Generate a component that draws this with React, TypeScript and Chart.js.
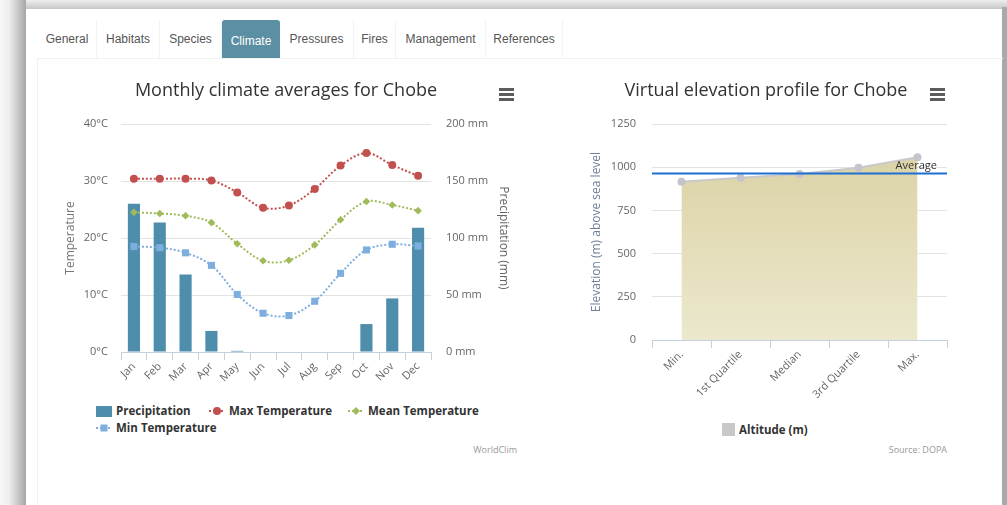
import React, { useEffect, useRef } from "react";
import { Chart, registerables } from "chart.js";

Chart.register(...registerables);

const FONT = "'Open Sans', 'DejaVu Sans', sans-serif";

// ---------- data ----------
const tabLabels = ["General", "Habitats", "Species", "Climate", "Pressures", "Fires", "Management", "References"];
const activeTab = "Climate";

const climateTitle = "Monthly climate averages for Chobe";
const months = ["Jan", "Feb", "Mar", "Apr", "May", "Jun", "Jul", "Aug", "Sep", "Oct", "Nov", "Dec"];
const precipitation = [130, 113.5, 68, 18.5, 1, 0, 0, 0, 0, 24.5, 47, 109];
const maxTemperature = [30.4, 30.4, 30.4, 30.1, 28.0, 25.3, 25.7, 28.6, 32.7, 34.9, 32.8, 30.9];
const meanTemperature = [24.5, 24.3, 23.9, 22.7, 19.0, 16.0, 16.1, 18.8, 23.2, 26.4, 25.8, 24.8];
const minTemperature = [18.5, 18.3, 17.4, 15.2, 10.1, 6.8, 6.4, 8.9, 13.8, 17.9, 18.9, 18.6];
const temperatureTicks = [0, 10, 20, 30, 40];
const precipitationTicks = [0, 50, 100, 150, 200];

const elevationTitle = "Virtual elevation profile for Chobe";
const elevationCategories = ["Min.", "1st Quartile", "Median", "3rd Quartile", "Max."];
const elevation = [916, 939, 960, 997, 1057];
const averageElevation = 964;
const elevationTicks = [0, 250, 500, 750, 1000, 1250];

// ---------- styles ----------
const C_BAR = "#4e8eac";
const C_MAX = "#c2504e";
const C_MEAN = "#9fbb5a";
const C_MIN = "#7eaede";
const C_GRID = "#e3e3e3";
const C_AXIS = "#c4d0dc";
const C_TICK = "#666666";
const C_AREA_LINE = "#c9c9c9";
const C_AREA_POINT = "#c4c4cc";
const C_AVG = "#1f6fd1";
const TAB_WIDTHS = [59, 63, 62, 58, 74, 42, 90, 77];

const averageLinePlugin = {
  id: "averageLine",
  afterDatasetsDraw(chart: any, _args: any, opts: any) {
    const scale = chart.scales.y;
    if (!scale) return;
    const y = scale.getPixelForValue(opts.value);
    const { left, right } = chart.chartArea;
    const ctx = chart.ctx;
    ctx.save();
    ctx.strokeStyle = opts.color;
    ctx.lineWidth = 2;
    ctx.beginPath();
    ctx.moveTo(left, y);
    ctx.lineTo(right, y);
    ctx.stroke();
    ctx.fillStyle = "#333";
    ctx.font = `11px ${FONT}`;
    ctx.textAlign = "right";
    ctx.textBaseline = "middle";
    ctx.fillText(opts.label, right - 10, y - 8);
    ctx.restore();
  },
};

const titleOptions = (text: string) => ({
  display: true,
  text,
  color: "#333",
  font: { family: FONT, size: 18, weight: "normal" },
  padding: { top: 10.2, bottom: 22.2 },
});

function ClimateChart() {
  const ref = useRef<HTMLCanvasElement>(null);
  useEffect(() => {
    const lineDs = (label: string, data: number[], color: string, style: string, radius: number, order: number) => ({
      type: "line" as const,
      label,
      data,
      yAxisID: "yT",
      borderColor: color,
      backgroundColor: color,
      borderWidth: 2,
      borderDash: [2, 2],
      tension: 0.35,
      pointStyle: style,
      pointRadius: radius,
      pointBackgroundColor: color,
      pointBorderWidth: 0,
      order,
    });
    const chart = new Chart(ref.current!, {
      type: "bar",
      data: {
        labels: months,
        datasets: [
          {
            type: "bar",
            label: "Precipitation",
            data: precipitation,
            yAxisID: "yP",
            backgroundColor: C_BAR,
            barPercentage: 0.47,
            categoryPercentage: 1,
            order: 4,
          } as any,
          lineDs("Max Temperature", maxTemperature, C_MAX, "circle", 4, 1),
          lineDs("Mean Temperature", meanTemperature, C_MEAN, "rectRot", 3.8, 2),
          lineDs("Min Temperature", minTemperature, C_MIN, "rect", 5, 3),
        ],
      },
      options: {
        animation: false,
        responsive: false,
        maintainAspectRatio: false,
        layout: { padding: 0 },
        plugins: {
          legend: { display: false },
          tooltip: { enabled: false },
          title: titleOptions(climateTitle),
        },
        scales: {
          x: {
            offset: true,
            grid: { offset: true, drawOnChartArea: false, drawTicks: true, tickLength: 8, color: C_AXIS },
            border: { display: true, color: C_AXIS },
            ticks: { minRotation: 45, maxRotation: 45, autoSkip: false, padding: 0, color: C_TICK, font: { family: FONT, size: 11 } },
            afterFit: (s: any) => { s.height = 40; },
          },
          yT: {
            position: "left",
            min: temperatureTicks[0],
            max: temperatureTicks[temperatureTicks.length - 1],
            ticks: {
              stepSize: temperatureTicks[1] - temperatureTicks[0],
              padding: 13,
              color: C_TICK,
              font: { family: FONT, size: 11 },
              callback: (v: any) => `${v}\u00B0C`,
            },
            grid: { color: C_GRID, drawTicks: false },
            border: { display: false },
            title: { display: true, text: "Temperature", color: "#777", font: { family: FONT, size: 12 }, padding: { top: 23.5, bottom: 0 } },
            afterFit: (s: any) => { s.width = 81; },
          },
          yP: {
            position: "right",
            min: precipitationTicks[0],
            max: precipitationTicks[precipitationTicks.length - 1],
            ticks: {
              stepSize: precipitationTicks[1] - precipitationTicks[0],
              padding: 15,
              color: C_TICK,
              font: { family: FONT, size: 11 },
              callback: (v: any) => `${v} mm`,
            },
            grid: { drawOnChartArea: false, drawTicks: false },
            border: { display: false },
            title: { display: true, text: "Precipitation (mm)", color: "#666", font: { family: FONT, size: 12 }, padding: { top: 21.8, bottom: 0 } },
            afterFit: (s: any) => { s.width = 101; },
          },
        },
      } as any,
    });
    return () => chart.destroy();
  }, []);
  return <canvas ref={ref} width={492} height={322} style={{ position: "absolute", left: 40, top: 70, width: 492, height: 322 }} />;
}

function ElevationChart() {
  const ref = useRef<HTMLCanvasElement>(null);
  useEffect(() => {
    const chart = new Chart(ref.current!, {
      type: "line",
      data: {
        labels: elevationCategories,
        datasets: [
          {
            label: "Altitude (m)",
            data: elevation,
            fill: "origin",
            backgroundColor: (c: any) => {
              const area = c.chart.chartArea;
              if (!area) return "#e2dcb5";
              const g = c.chart.ctx.createLinearGradient(0, area.top, 0, area.bottom);
              g.addColorStop(0, "#d8cfa0");
              g.addColorStop(1, "#ece8cd");
              return g;
            },
            borderColor: C_AREA_LINE,
            borderWidth: 2,
            pointRadius: 4,
            pointBackgroundColor: C_AREA_POINT,
            pointBorderWidth: 0,
            tension: 0,
          },
        ],
      },
      plugins: [averageLinePlugin],
      options: {
        animation: false,
        responsive: false,
        maintainAspectRatio: false,
        layout: { padding: { left: 25, right: 25 } },
        plugins: {
          legend: { display: false },
          tooltip: { enabled: false },
          title: titleOptions(elevationTitle),
          averageLine: { value: averageElevation, label: "Average", color: C_AVG },
        },
        scales: {
          x: {
            offset: true,
            grid: { offset: true, drawOnChartArea: false, drawTicks: true, tickLength: 8, color: C_AXIS },
            border: { display: true, color: C_AXIS },
            ticks: { minRotation: 45, maxRotation: 45, autoSkip: false, padding: 0, color: C_TICK, font: { family: FONT, size: 11 } },
            afterFit: (s: any) => { s.height = 60; },
          },
          y: {
            min: elevationTicks[0],
            max: elevationTicks[elevationTicks.length - 1],
            ticks: {
              stepSize: elevationTicks[1] - elevationTicks[0],
              padding: 16,
              color: C_TICK,
              font: { family: FONT, size: 11 },
              callback: (v: any) => String(v),
            },
            grid: { color: C_GRID, drawTicks: false },
            border: { display: false },
            title: { display: true, text: "Elevation (m) above sea level", color: "#6f7f9a", font: { family: FONT, size: 12 }, padding: { top: 4.8, bottom: 0 } },
            afterFit: (s: any) => { s.width = 67; },
          },
        },
      } as any,
    });
    return () => chart.destroy();
  }, []);
  return <canvas ref={ref} width={412} height={330} style={{ position: "absolute", left: 560, top: 70, width: 412, height: 330 }} />;
}

function MenuIcon({ left, top }: { left: number; top: number }) {
  const bar = (t: number) => (
    <div style={{ position: "absolute", left: 0, top: t, width: 15, height: 3, background: "#5c5c5c" }} />
  );
  return (
    <div style={{ position: "absolute", left, top, width: 15, height: 13 }}>
      {bar(0)}
      {bar(5)}
      {bar(10)}
    </div>
  );
}

function LineMarker({ color, shape }: { color: string; shape: string }) {
  return (
    <svg width={16} height={12} style={{ display: "block" }}>
      <line x1={0} y1={6} x2={16} y2={6} stroke={color} strokeWidth={2} strokeDasharray="2,2" />
      {shape === "circle" && <circle cx={8} cy={6} r={4} fill={color} />}
      {shape === "diamond" && <polygon points="8,2 12,6 8,10 4,6" fill={color} />}
      {shape === "square" && <rect x={4.5} y={2.5} width={7} height={7} fill={color} />}
    </svg>
  );
}

const legendText: React.CSSProperties = {
  fontFamily: FONT,
  fontWeight: 700,
  fontSize: 11.5,
  color: "#333",
  whiteSpace: "nowrap",
  lineHeight: "12px",
};

function LegendItem({ left, top, marker, label }: { left: number; top: number; marker: React.ReactNode; label: string }) {
  return (
    <div style={{ position: "absolute", left, top, display: "flex", alignItems: "center", gap: 4 }}>
      {marker}
      <span style={legendText}>{label}</span>
    </div>
  );
}

export default function App() {
  return (
    <div style={{ position: "fixed", left: 0, top: 0, width: 1007, height: 505, background: "#fff", overflow: "hidden" }}>
      {/* screenshot frame shadows */}
      <div style={{ position: "absolute", left: 0, top: 0, width: 1007, height: 9, background: "linear-gradient(#eeeeee, #c6c6c6)" }} />
      <div style={{ position: "absolute", left: 0, top: 0, width: 26, height: 505, background: "linear-gradient(to right, #f7f7f7 0px, #eeeeee 9px, #a6a6a6 26px)" }} />
      <div style={{ position: "absolute", left: 1002, top: 7, width: 5, height: 498, background: "#a9a9a9" }} />

      {/* panel borders */}
      <div style={{ position: "absolute", left: 37, top: 58, width: 965, height: 447, borderLeft: "1px solid #efefef", borderTop: "1px solid #f2f2f2" }} />

      {/* tabs */}
      <div style={{ position: "absolute", left: 38, top: 20, height: 38, display: "flex" }}>
        {tabLabels.map((t, i) => {
          const active = t === activeTab;
          return (
            <div
              key={t}
              style={{
                width: TAB_WIDTHS[i],
                height: 38,
                display: "flex",
                alignItems: "center",
                justifyContent: "center",
                fontFamily: "'Liberation Sans', Arial, sans-serif",
                fontSize: 12,
                color: active ? "#fff" : "#555",
                background: active ? "#5b8fa3" : "transparent",
                borderRight: active ? "none" : "1px solid #f3f3f3",
                borderRadius: active ? "3px 3px 0 0" : 0,
                boxSizing: "border-box",
                paddingTop: active ? 3 : 0,
              }}
            >
              {t}
            </div>
          );
        })}
      </div>

      <ClimateChart />
      <MenuIcon left={499} top={88} />
      <LegendItem left={96} top={405} label="Precipitation" marker={<div style={{ width: 16, height: 11, background: C_BAR }} />} />
      <LegendItem left={209} top={405} label="Max Temperature" marker={<LineMarker color={C_MAX} shape="circle" />} />
      <LegendItem left={348} top={405} label="Mean Temperature" marker={<LineMarker color={C_MEAN} shape="diamond" />} />
      <LegendItem left={96} top={422} label="Min Temperature" marker={<LineMarker color={C_MIN} shape="square" />} />
      <div style={{ position: "absolute", left: 417, width: 100, top: 443, textAlign: "right", fontFamily: FONT, fontSize: 9, color: "#999" }}>WorldClim</div>

      <ElevationChart />
      <MenuIcon left={930} top={88} />
      <LegendItem left={722} top={423} label="Altitude (m)" marker={<div style={{ width: 13, height: 13, background: "#c8c8c8" }} />} />
      <div style={{ position: "absolute", left: 847, width: 100, top: 443, textAlign: "right", fontFamily: FONT, fontSize: 9, color: "#999" }}>Source: DOPA</div>
    </div>
  );
}
